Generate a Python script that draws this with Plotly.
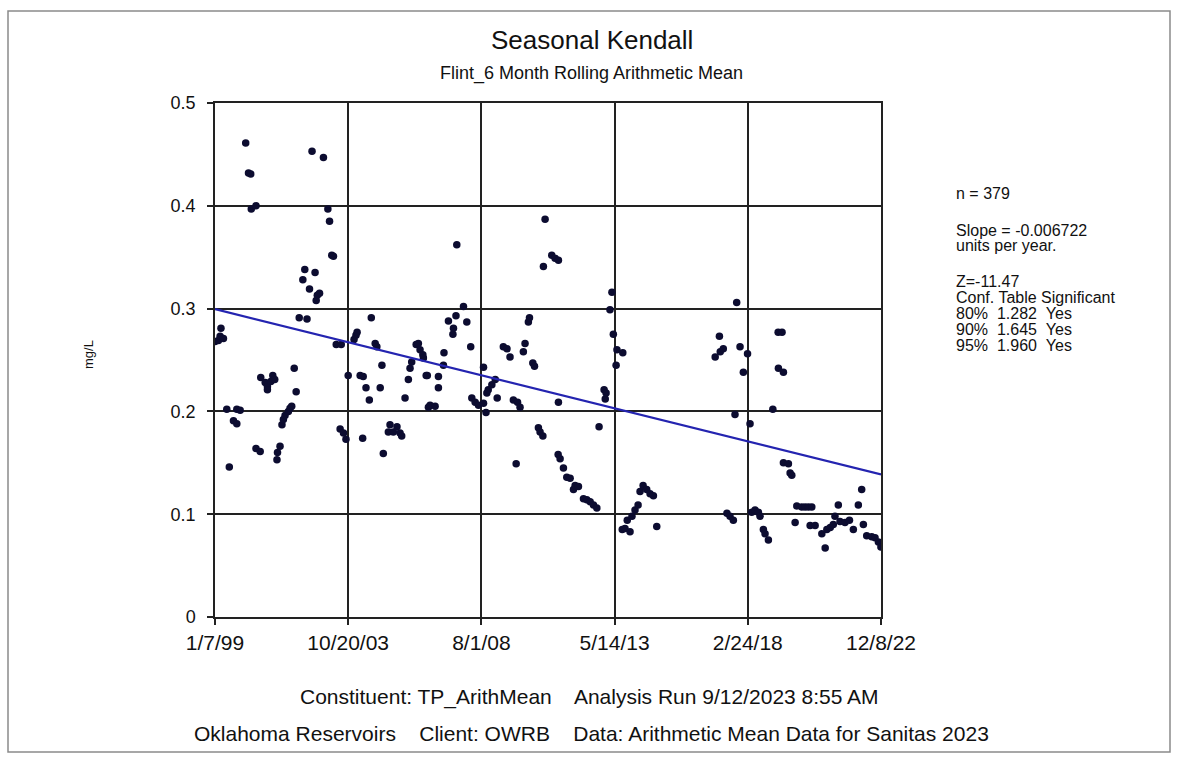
import pandas as pd
import plotly.graph_objects as go

# ---- data (decimal year, mg/L) ----
dec_year = [
    1999.02, 1999.14, 1999.23, 1999.20, 1999.32, 1999.44, 1999.53, 1999.68, 1999.80, 1999.80,
    1999.92, 2000.12, 2000.22, 2000.30, 2000.32, 2000.49, 2000.49, 2000.64, 2000.66, 2000.82,
    2000.90, 2000.90, 2001.02, 2001.09, 2001.16, 2001.24, 2001.26, 2001.35, 2001.42, 2001.47,
    2001.53, 2001.65, 2001.71, 2001.77, 2001.86, 2001.93, 2002.04, 2002.32, 2002.17, 2002.24,
    2002.41, 2002.50, 2002.61, 2002.65, 2002.69, 2002.77, 2002.91, 2003.07, 2003.13, 2003.21,
    2003.27, 2003.37, 2003.55, 2003.51, 2003.63, 2003.72, 2004.01, 2004.08, 2004.12, 2003.80,
    2004.23, 2004.34, 2004.32, 2004.44, 2004.56, 2004.63, 2004.77, 2004.83, 2004.95, 2005.01,
    2005.06, 2005.24, 2005.30, 2005.42, 2005.55, 2005.66, 2005.72, 2005.84, 2005.96, 2006.02,
    2006.08, 2006.24, 2006.32, 2006.38, 2006.48, 2006.50, 2006.60, 2006.64, 2006.68, 2006.74,
    2006.92, 2007.04, 2007.04, 2007.22, 2007.24, 2007.40, 2007.56, 2007.58, 2007.67, 2008.06,
    2007.70, 2007.94, 2008.20, 2008.24, 2008.36, 2008.48, 2008.66, 2008.66, 2008.75, 2008.78,
    2008.83, 2008.96, 2009.08, 2009.15, 2009.37, 2009.50, 2009.61, 2009.73, 2009.88, 2009.97,
    2009.83, 2010.09, 2010.15, 2010.27, 2010.31, 2010.43, 2010.49, 2010.63, 2010.69, 2010.79,
    2010.81, 2010.87, 2011.11, 2011.23, 2011.35, 2011.35, 2011.34, 2011.41, 2011.53, 2011.65,
    2011.77, 2011.89, 2011.95, 2012.07, 2012.25, 2012.37, 2012.49, 2012.61, 2012.73, 2012.81,
    2012.99, 2013.03, 2013.06, 2013.20, 2013.27, 2013.32, 2013.42, 2013.45, 2013.66, 2013.64,
    2013.74, 2013.82, 2013.92, 2013.99, 2014.10, 2014.21, 2014.28, 2014.39, 2014.52, 2014.64,
    2014.76, 2014.88, 2016.98, 2017.13, 2017.16, 2017.27, 2017.40, 2017.51, 2017.63, 2017.69,
    2017.75, 2017.87, 2017.99, 2018.14, 2018.23, 2018.29, 2018.41, 2018.53, 2018.59, 2018.71,
    2018.77, 2018.89, 2019.05, 2019.24, 2019.38, 2019.25, 2019.43, 2019.43, 2019.61, 2019.67,
    2019.73, 2019.85, 2019.91, 2020.09, 2020.21, 2020.33, 2020.45, 2020.39, 2020.57, 2020.81,
    2020.93, 2020.99, 2021.11, 2021.22, 2021.28, 2021.40, 2021.46, 2021.64, 2021.80, 2021.94,
    2022.12, 2022.24, 2022.30, 2022.42, 2022.60, 2022.72, 2022.84, 2022.93,
]
tp_value = [
    0.268, 0.269, 0.281, 0.273, 0.271, 0.202, 0.146, 0.191, 0.188, 0.202,
    0.201, 0.461, 0.432, 0.431, 0.397, 0.400, 0.164, 0.161, 0.233, 0.228,
    0.224, 0.221, 0.229, 0.235, 0.231, 0.153, 0.160, 0.166, 0.187, 0.192,
    0.196, 0.200, 0.203, 0.205, 0.242, 0.219, 0.291, 0.290, 0.328, 0.338,
    0.319, 0.453, 0.335, 0.308, 0.313, 0.315, 0.447, 0.397, 0.385, 0.352,
    0.351, 0.265, 0.265, 0.183, 0.179, 0.173, 0.270, 0.274, 0.277, 0.235,
    0.235, 0.234, 0.174, 0.223, 0.211, 0.291, 0.266, 0.263, 0.223, 0.245,
    0.159, 0.180, 0.187, 0.180, 0.185, 0.179, 0.176, 0.213, 0.231, 0.242,
    0.248, 0.265, 0.266, 0.260, 0.255, 0.252, 0.235, 0.235, 0.204, 0.206,
    0.205, 0.234, 0.223, 0.245, 0.257, 0.288, 0.275, 0.281, 0.293, 0.287,
    0.362, 0.302, 0.263, 0.213, 0.209, 0.206, 0.208, 0.243, 0.199, 0.218,
    0.221, 0.226, 0.231, 0.213, 0.263, 0.261, 0.253, 0.211, 0.209, 0.204,
    0.149, 0.258, 0.266, 0.287, 0.291, 0.247, 0.244, 0.184, 0.180, 0.176,
    0.341, 0.387, 0.352, 0.349, 0.347, 0.209, 0.158, 0.154, 0.145, 0.136,
    0.135, 0.124, 0.128, 0.127, 0.115, 0.114, 0.112, 0.109, 0.106, 0.185,
    0.221, 0.212, 0.218, 0.299, 0.316, 0.275, 0.245, 0.260, 0.257, 0.085,
    0.086, 0.094, 0.083, 0.098, 0.104, 0.109, 0.122, 0.128, 0.124, 0.120,
    0.118, 0.088, 0.253, 0.273, 0.258, 0.261, 0.101, 0.098, 0.094, 0.197,
    0.306, 0.263, 0.238, 0.256, 0.188, 0.102, 0.104, 0.102, 0.098, 0.085,
    0.081, 0.075, 0.202, 0.277, 0.277, 0.242, 0.238, 0.150, 0.149, 0.140,
    0.138, 0.092, 0.108, 0.107, 0.107, 0.107, 0.107, 0.089, 0.089, 0.081,
    0.067, 0.085, 0.087, 0.090, 0.098, 0.109, 0.093, 0.092, 0.094, 0.085,
    0.109, 0.124, 0.090, 0.079, 0.078, 0.077, 0.073, 0.068,
]

tick_dates = ["1999-01-07", "2003-10-20", "2008-08-01", "2013-05-14", "2018-02-24", "2022-12-08"]
tick_labels = ["1/7/99", "10/20/03", "8/1/08", "5/14/13", "2/24/18", "12/8/22"]
y_ticks = [0, 0.1, 0.2, 0.3, 0.4, 0.5]
y_tick_labels = ["0", "0.1", "0.2", "0.3", "0.4", "0.5"]

trend_start_value = 0.2995
slope_per_year = -0.006722

stats_lines = [
    "n = 379",
    "Slope = -0.006722",
    "units per year.",
    "Z=-11.47",
    "Conf. Table Significant",
    "80%  1.282  Yes",
    "90%  1.645  Yes",
    "95%  1.960  Yes",
]


def dec_to_date(y):
    yr = int(y)
    return pd.Timestamp(year=yr, month=1, day=1) + pd.Timedelta(days=(y - yr) * 365.25)


dates = [dec_to_date(y) for y in dec_year]

t0 = pd.Timestamp(tick_dates[0])
t1 = pd.Timestamp(tick_dates[-1])
span_years = (t1 - t0).days / 365.25
trend_x = [t0, t1]
trend_y = [trend_start_value, trend_start_value + slope_per_year * span_years]

FONT = "Liberation Sans, Arial, sans-serif"

fig = go.Figure()
fig.add_trace(go.Scatter(
    x=dates, y=tp_value, mode="markers",
    marker=dict(size=7.5, color="#0c0c30", line=dict(width=0)),
    showlegend=False, hoverinfo="x+y",
))
fig.add_trace(go.Scatter(
    x=trend_x, y=trend_y, mode="lines",
    line=dict(color="#2424b0", width=2.2),
    showlegend=False,
))

# layout geometry (plot area 215..881 x 103..617 px)
L, R, T, B = 215, 881, 103, 617
W, H = 1177, 782


def px(xp):
    return (xp - L) / (R - L)


def py(yp):
    return (B - yp) / (B - T)


ann = []
ann.append(dict(text="Seasonal Kendall", x=px(592), y=py(40), xref="paper", yref="paper",
                xanchor="center", yanchor="middle", showarrow=False,
                font=dict(family=FONT, size=26, color="#111")))
ann.append(dict(text="Flint_6 Month Rolling Arithmetic Mean", x=px(591), y=py(74), xref="paper", yref="paper",
                xanchor="center", yanchor="middle", showarrow=False,
                font=dict(family=FONT, size=18, color="#111")))
ann.append(dict(text="mg/L", x=px(88), y=py(355), xref="paper", yref="paper", textangle=-90,
                xanchor="center", yanchor="middle", showarrow=False,
                font=dict(family=FONT, size=13, color="#111")))
ann.append(dict(text="Constituent: TP_ArithMean    Analysis Run 9/12/2023 8:55 AM",
                x=px(589), y=py(697), xref="paper", yref="paper",
                xanchor="center", yanchor="middle", showarrow=False,
                font=dict(family=FONT, size=21, color="#111")))
ann.append(dict(text="Oklahoma Reservoirs    Client: OWRB    Data: Arithmetic Mean Data for Sanitas 2023",
                x=px(591), y=py(733), xref="paper", yref="paper",
                xanchor="center", yanchor="middle", showarrow=False,
                font=dict(family=FONT, size=21, color="#111")))

stats_y = [193, 230, 245, 281, 297, 313, 329, 345]
for s, yy in zip(stats_lines, stats_y):
    ann.append(dict(text=s.replace("  ", "&nbsp;&nbsp;"), x=px(954), y=py(yy),
                    xref="paper", yref="paper", xanchor="left", yanchor="middle", showarrow=False,
                    font=dict(family=FONT, size=16, color="#111")))

fig.update_layout(
    width=W, height=H,
    margin=dict(l=L, r=W - R, t=T, b=H - B),
    paper_bgcolor="white", plot_bgcolor="white",
    annotations=ann,
    shapes=[dict(type="rect", xref="paper", yref="paper",
                 x0=px(8), x1=px(1170), y0=py(752), y1=py(11),
                 line=dict(color="#8a8a8a", width=1.5), layer="below")],
    xaxis=dict(type="date", range=[tick_dates[0], tick_dates[-1]],
               tickvals=tick_dates, ticktext=tick_labels,
               showgrid=True, gridcolor="#222", gridwidth=1.5,
               showline=True, linecolor="#222", linewidth=1.5, mirror=True,
               ticks="outside", ticklen=6, tickcolor="#222", tickwidth=1.5,
               tickfont=dict(family=FONT, size=21, color="#111"), zeroline=False),
    yaxis=dict(range=[0, 0.5], tickvals=y_ticks, ticktext=y_tick_labels,
               showgrid=True, gridcolor="#222", gridwidth=1.5,
               showline=True, linecolor="#222", linewidth=1.5, mirror=True,
               ticks="outside", ticklen=6, tickcolor="#222", tickwidth=1.5,
               ticklabelstandoff=8,
               tickfont=dict(family=FONT, size=18, color="#111"), zeroline=False),
)

fig.write_html("out.html")
